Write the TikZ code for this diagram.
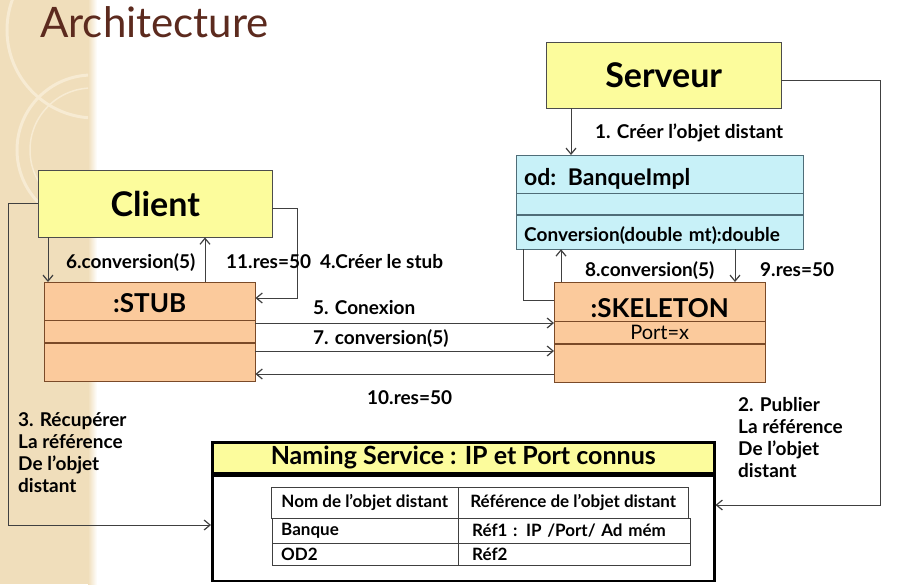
\documentclass[tikz,border=0pt]{standalone}
\usepackage{fontspec}
\setmainfont{Lato}
\usetikzlibrary{positioning,arrows.meta}
\definecolor{strip}{HTML}{F0DEBB}
\definecolor{ring}{HTML}{F7EBD3}
\definecolor{titlebrown}{HTML}{5C2A1E}
\definecolor{boxyellow}{HTML}{FCFC9C}
\definecolor{odcyan}{HTML}{C8F1F8}
\definecolor{odline}{HTML}{4F6D78}
\definecolor{stubfill}{HTML}{FBCA9C}
\definecolor{stubline}{HTML}{7A4A28}
\tikzset{
  mainBox/.style={%
    draw=black!70,
    fill=boxyellow,
    inner sep=0pt,
    anchor=north west,
    font=\bfseries\fontsize{34}{36}\selectfont},
  odRow/.style={%
    draw=odline,
    fill=odcyan,
    minimum width=287pt,
    text width=271pt,
    inner xsep=8pt,
    inner ysep=0pt,
    align=left},
  stubRow/.style={%
    draw=stubline,
    fill=stubfill,
    minimum width=211pt,
    inner sep=0pt},
  nsFrame/.style={%
    draw=black,
    line width=2.5pt,
    minimum width=502pt,
    inner sep=0pt},
  cellBox/.style={%
    draw=black!75,
    inner sep=0pt,
    anchor=north west,
    font=\bfseries\fontsize{17}{19}\selectfont},
  stepText/.style={%
    inner sep=0pt,
    font=\bfseries\fontsize{19}{22}\selectfont},
  msgText/.style={%
    stepText,
    anchor=west,
    text height=14pt,
    text depth=0pt},
  link/.style={draw=black!75, line width=0.8pt},
  arr/.style={link, -{Straight Barb[length=6pt,width=10pt,line width=1.2pt]}},
}
\begin{document}
\begin{tikzpicture}[x=1pt,y=-1pt]
  \useasboundingbox (0,0) rectangle (900,584);
  % slide background
  \fill[white] (0,0) rectangle (900,584);
  \fill[strip] (0,0) rectangle (88,584);
  \shade[left color=strip, right color=white] (88,0) rectangle (97,584);
  \begin{scope}
    \clip (0,0) rectangle (88,584);
    \draw[ring, line width=3pt] (95,30) circle[radius=88];
    \draw[ring, line width=3pt] (92,150) circle[radius=75];
    \draw[ring, line width=1.5pt] (92,150) circle[radius=62];
  \end{scope}
  \node[anchor=west, inner sep=0pt, text=titlebrown,
    font=\fontsize{42}{46}\selectfont] (title) at (40,22) {Architecture};

  % main actors
  \node[mainBox, minimum width=234pt, minimum height=67pt] (client) at (38,170) {Client};
  \node[mainBox, minimum width=235pt, minimum height=66pt] (serveur) at (546,42) {Serveur};

  % remote object
  \node[odRow, anchor=north west, minimum height=38pt, text height=22pt, text depth=0pt,
    font=\bfseries\fontsize{23}{25}\selectfont] (od head) at (516,155) {od: BanqueImpl};
  \node[odRow, minimum height=21pt, below=0pt of od head] (od mid) {};
  \node[odRow, minimum height=34pt, below=0pt of od mid, text height=19pt, text depth=0pt,
    font=\bfseries\fontsize{19}{21}\selectfont] (od low) {Conversion(double mt):double};

  % stub
  \node[stubRow, anchor=north west, minimum height=38pt, text height=23pt,
    font=\bfseries\fontsize{26}{28}\selectfont] (stub head) at (44,282) {:STUB};
  \node[stubRow, minimum height=22pt, below=0pt of stub head] (stub mid) {};
  \node[stubRow, minimum height=38pt, below=0pt of stub mid] (stub low) {};

  % skeleton
  \node[stubRow, anchor=north west, minimum height=39pt, text height=31pt,
    font=\bfseries\fontsize{26}{28}\selectfont] (skel head) at (554,282) {:SKELETON};
  \node[stubRow, minimum height=22pt, below=0pt of skel head,
    font=\fontsize{20}{22}\selectfont] (skel mid) {Port=x};
  \node[stubRow, minimum height=38pt, below=0pt of skel mid] (skel low) {};

  % naming service
  \node[nsFrame, anchor=north west, minimum height=31pt, fill=boxyellow,
    font=\bfseries\fontsize{25}{27}\selectfont] (ns head) at (211,441)
    {Naming Service : IP et Port connus};
  \node[nsFrame, minimum height=105pt, below=0pt of ns head] (ns body) {};
  \node[cellBox, minimum width=187pt, minimum height=31pt] (col name) at (271,487)
    {Nom de l'objet distant};
  \node[cellBox, minimum width=230pt, minimum height=31pt] (col ref) at (458,487)
    {Référence de l'objet distant};
  \node[cellBox, minimum width=186pt, minimum height=25pt, text width=168pt,
    inner xsep=9pt, align=left] (name 1) at (272,518) {Banque};
  \node[cellBox, minimum width=232pt, minimum height=25pt, text width=204pt,
    inner xsep=14pt, align=left] (ref 1) at (458,518) {Réf1 : IP /Port/ Ad mém};
  \node[cellBox, minimum width=186pt, minimum height=22pt, text width=168pt,
    inner xsep=9pt, align=left] (name 2) at (272,543) {OD2};
  \node[cellBox, minimum width=232pt, minimum height=22pt, text width=204pt,
    inner xsep=14pt, align=left] (ref 2) at (458,543) {Réf2};

  % messages
  \draw[arr] (571,0 |- serveur.south) -- (571,0 |- od head.north);
  \node[msgText] (msg 1) at (595,131) {1. Créer l'objet distant};

  \draw[arr] (serveur.east |- 0,80) -- (880,80) -- (880,505) -- (ns body.east |- 0,505);
  \node[stepText, anchor=north west, align=left] (msg 2) at (738,397)
    {2. Publier\\La référence\\De l'objet\\distant};

  \draw[arr] (client.west |- 0,203) -- (8,203) -- (8,525) -- (ns body.west |- 0,525);
  \node[stepText, anchor=north west, align=left] (msg 3) at (18,412)
    {3. Récupérer\\La référence\\De l'objet\\distant};

  \draw[arr] (client.east |- 0,208) -- (297,208) -- (297,298) -- (stub head.east |- 0,298);
  \node[msgText] (msg 4) at (320,261) {4.Créer le stub};

  \draw[arr] (stub mid.east |- 0,323) -- (skel mid.west |- 0,323);
  \node[msgText] (msg 5) at (313,307) {5. Conexion};

  \draw[arr] (48,0 |- client.south) -- (48,0 |- stub head.north);
  \node[msgText] (msg 6) at (66,261) {6.conversion(5)};

  \draw[arr] (stub low.east |- 0,351) -- (skel low.west |- 0,351);
  \node[msgText] (msg 7) at (313,337) {7. conversion(5)};

  \draw[arr] (561,0 |- skel head.north) -- (561,0 |- od low.south);
  \node[msgText] (msg 8) at (585,269) {8.conversion(5)};

  \draw[arr] (735,0 |- od low.south) -- (735,0 |- skel head.north);
  \node[msgText] (msg 9) at (760,269) {9.res=50};

  \draw[arr] (skel low.west |- 0,374) -- (stub low.east |- 0,374);
  \node[msgText] (msg 10) at (367,397) {10.res=50};

  \draw[arr] (205,0 |- stub head.north) -- (205,0 |- client.south);
  \node[msgText] (msg 11) at (226,261) {11.res=50};

  \draw[link] (523,0 |- od low.south) -- (523,300) -- (skel head.west |- 0,300);
\end{tikzpicture}
\end{document}
